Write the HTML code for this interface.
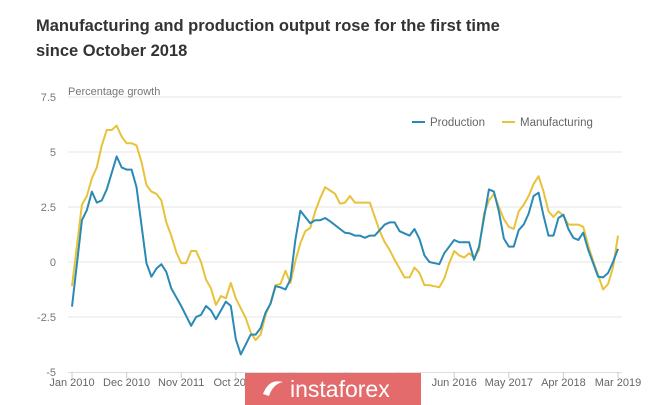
<!DOCTYPE html>
<html><head><meta charset="utf-8">
<style>
body{margin:0;background:#fff;width:665px;height:405px;overflow:hidden;font-family:"Liberation Sans",sans-serif;position:relative}
#title{position:absolute;left:36px;top:14px;font-size:16.5px;font-weight:bold;color:#333;line-height:25px;width:475px}
svg{position:absolute;left:0;top:0}
#wm{position:absolute;left:245px;top:373px;width:176px;height:32px;background:#e46b6b;color:#fff;font-size:23px;line-height:30px}
#wm span{position:absolute;left:45px;top:1px}
</style></head><body>
<div id="title">Manufacturing and production output rose for the first time since October 2018</div>
<svg id="chart" width="665" height="405"></svg>
<div id="wm"><svg width="30" height="30" style="left:12px;top:1px"><path d="M6 20 Q12 4 26 8 Q16 10 12 22 Z" fill="#fff"/></svg><span>instaforex</span></div>
<script>
const yTicks=[7.5,5,2.5,0,-2.5,-5];
const yTickLabels=["7.5","5","2.5","0","-2.5","-5"];
const xTickMonths=[0,11,22,33,44,55,66,77,88,99,110];
const xTickLabels=["Jan 2010","Dec 2010","Nov 2011","Oct 2012","","","","Jun 2016","May 2017","Apr 2018","Mar 2019"];
const prodMonths=[0,2,3,4,5,6,7,9,10,11,12,13,15,16,17,18,19,20,22,24,25,26,27,28,29,31,32,33,34,36,37,38,39,40,41,42,43,44,45,46,48,49,50,51,52,54,55,56,57,58,59,60,61,62,63,64,65,66,67,68,69,70,71,72,74,75,77,78,80,81,82,84,85,86,87,88,89,90,91,92,93,94,95,96,97,98,99,100,101,102,103,104,105,106,107,108,109,110];
const prodValues=[-2.03,1.9,2.36,3.2,2.7,2.8,3.3,4.8,4.3,4.2,4.2,3.4,-0.05,-0.67,-0.3,-0.1,-0.45,-1.2,-2.0,-2.9,-2.5,-2.4,-2.0,-2.2,-2.6,-1.8,-2.0,-3.5,-4.2,-3.3,-3.3,-3.0,-2.3,-1.9,-1.1,-1.15,-1.25,-0.8,1.0,2.33,1.76,1.9,1.9,2.0,1.85,1.5,1.33,1.3,1.2,1.2,1.1,1.2,1.2,1.45,1.7,1.8,1.8,1.4,1.3,1.2,1.5,1.05,0.3,0.0,-0.1,0.4,1.0,0.9,0.9,0.1,0.7,3.3,3.2,2.3,1.07,0.7,0.7,1.45,1.7,2.2,3.0,3.15,2.1,1.2,1.2,2.0,2.15,1.5,1.1,1.0,1.33,0.55,-0.05,-0.67,-0.7,-0.5,0.0,0.6];
const mfgMonths=[0,2,3,4,5,6,7,8,9,10,11,12,13,14,15,16,17,18,19,20,21,22,23,24,25,26,27,28,29,30,31,32,33,34,35,36,37,38,39,40,41,42,43,44,45,46,47,48,49,50,51,52,53,54,55,56,57,58,59,60,61,62,63,64,65,66,67,68,69,70,71,72,73,74,75,76,77,78,79,80,81,82,83,84,85,86,87,88,89,90,91,92,93,94,95,96,97,98,99,100,101,102,103,104,105,106,107,108,109,110];
const mfgValues=[-1.1,2.6,3.0,3.8,4.3,5.3,6.0,6.0,6.2,5.7,5.4,5.4,5.3,4.55,3.5,3.2,3.1,2.8,1.8,1.2,0.45,-0.05,-0.05,0.5,0.5,0.0,-0.8,-1.2,-1.95,-1.55,-1.65,-0.95,-1.65,-2.1,-2.55,-3.2,-3.55,-3.3,-2.4,-1.85,-1.05,-1.0,-0.4,-0.95,0.05,0.85,1.4,1.55,2.3,2.9,3.4,3.25,3.1,2.65,2.7,3.0,2.7,2.7,2.7,2.7,2.05,1.4,0.9,0.55,0.1,-0.3,-0.7,-0.7,-0.25,-0.5,-1.05,-1.05,-1.1,-1.15,-0.75,-0.05,0.5,0.3,0.2,0.4,0.2,0.55,2.2,2.8,3.1,2.5,1.95,1.6,1.5,2.3,2.6,3.0,3.55,3.9,3.2,2.3,2.05,2.3,2.1,1.7,1.7,1.7,1.6,0.75,0.05,-0.6,-1.25,-1.0,-0.25,1.2];
const NS="http://www.w3.org/2000/svg";
const svg=document.getElementById('chart');
const X=m=>72+m*(546/110);
const Y=v=>262-v*22;
function mk(t,a){const e=document.createElementNS(NS,t);for(const k in a)e.setAttribute(k,a[k]);svg.appendChild(e);return e;}
yTicks.forEach((v,i)=>{
  if(v>-5){const g=mk('line',{x1:68,x2:622,y1:Y(v),y2:Y(v),stroke:'#e6e6e6','stroke-width':1});
  
  }
  const t=mk('text',{x:56,y:Y(v)+4,'text-anchor':'end','font-size':11,fill:'#777'});
  t.textContent=yTickLabels[i];
  
  
});
const ax=mk('line',{x1:68,x2:622,y1:Y(-5)+0.5,y2:Y(-5)+0.5,stroke:'#ddd'});


xTickMonths.forEach((m,i)=>{
  const tk=mk('line',{x1:X(m),x2:X(m),y1:Y(-5),y2:Y(-5)+6,stroke:'#ccc'});
  
  
  if(xTickLabels[i]){const t=mk('text',{x:X(m),y:386,'text-anchor':'middle','font-size':11,fill:'#666'});
  t.textContent=xTickLabels[i];
  
  }
});
const yt=mk('text',{x:68,y:95,'font-size':11,fill:'#777'});
yt.textContent='Percentage growth';


function series(ms,vs,col,name){
  const p=mk('polyline',{points:ms.map((m,i)=>X(m)+','+Y(vs[i])).join(' '),fill:'none',stroke:col,'stroke-width':2,'stroke-linejoin':'round'});
  
  
}
series(mfgMonths,mfgValues,'#e8c23a','manufacturing-line');
series(prodMonths,prodValues,'#2a8ab5','production-line');
[[412,'#2a8ab5','Production','legend-production'],[502,'#e8c23a','Manufacturing','legend-manufacturing']].forEach(l=>{
  const ln=mk('line',{x1:l[0],x2:l[0]+13,y1:122,y2:122,stroke:l[1],'stroke-width':2});
  
  
  const t=mk('text',{x:l[0]+18,y:126,'font-size':11.5,fill:'#666'});
  t.textContent=l[2];
  
  
});
</script>
</body></html>
